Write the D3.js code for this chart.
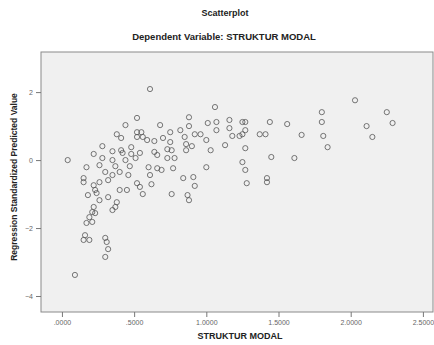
<!DOCTYPE html>
<html>
<head>
<meta charset="utf-8">
<script src="https://cdn.jsdelivr.net/npm/d3@7"></script>
<style>
  body { margin: 0; background: #fff; }
  text { font-family: "Liberation Sans", Arial, sans-serif; }
</style>
</head>
<body>
<div id="chart"></div>
<script>
// STRUKTUR MODAL (x) vs Regression Standardized Predicted Value (y)
const strukturModal = [
  0.61, 1.06, 0.52, 0.88, 0.88, 0.44, 1.01, 1.07, 1.07, 1.16, 1.16, 1.25, 1.18, 1.23,
  0.38, 0.41, 0.52, 0.55, 0.52, 0.56, 0.59, 0.64, 0.75, 0.82, 0.92, 0.96, 0.85, 0.75,
  0.86, 0.90, 0.86, 0.28, 0.22, 0.35, 0.41, 0.42, 0.48, 0.48, 0.28, 0.54, 0.64, 0.66,
  0.73, 0.76, 0.04, 0.17, 0.35, 0.37, 0.47, 0.60, 0.66, 0.73, 0.78, 0.77, 0.91, 1.00,
  1.25, 0.30, 0.35, 0.40, 0.46, 0.15, 0.15, 0.22, 0.26, 0.32, 0.23, 0.24, 0.18, 0.45,
  0.52, 0.54, 0.56, 0.62, 0.84, 0.92, 0.76, 0.87, 0.88, 0.32, 0.22, 0.23, 0.21, 0.19,
  0.38, 0.37, 0.35, 0.17, 0.21, 0.16, 0.15, 0.19, 0.30, 0.31, 0.32, 0.30, 0.09, 2.03,
  2.25, 2.29, 1.80, 1.80, 2.11, 2.15, 1.81, 1.84, 1.27, 1.27, 1.44, 1.56, 1.25, 1.37,
  1.41, 1.66, 1.27, 1.45, 1.61, 1.27, 1.42, 1.28, 1.42, 0.68, 0.70, 1.00, 1.13, 1.03,
  0.26, 0.44, 0.51, 0.61, 0.69, 0.40, 0.26
];
const predictedValue = [
  2.09, 1.56, 1.24, 1.26, 1.00, 1.03, 1.09, 1.12, 0.88, 1.18, 0.94, 1.12, 0.71, 0.71,
  0.76, 0.65, 0.82, 0.82, 0.68, 0.68, 0.59, 0.56, 0.82, 0.88, 0.76, 0.76, 0.68, 0.53,
  0.47, 0.41, 0.29, 0.41, 0.18, 0.26, 0.29, 0.21, 0.38, 0.18, 0.06, 0.21, 0.24, 0.15,
  0.32, 0.29, 0.00, -0.21, 0.00, -0.18, -0.18, -0.21, -0.24, 0.06, 0.06, -0.24, -0.50, -0.21,
  -0.06, -0.35, -0.44, -0.35, -0.44, -0.53, -0.65, -0.74, -0.65, -0.59, -0.88, -0.97, -1.03, -0.88,
  -0.68, -0.79, -1.00, -0.71, -0.53, -0.76, -1.00, -1.03, -1.18, -1.09, -1.38, -1.56, -1.53, -1.68,
  -1.24, -1.38, -1.47, -1.85, -1.82, -2.21, -2.35, -2.35, -2.29, -2.41, -2.62, -2.85, -3.38, 1.76,
  1.41, 1.09, 1.41, 1.12, 1.00, 0.68, 0.71, 0.38, 1.12, 0.88, 1.12, 1.06, 0.76, 0.76,
  0.76, 0.74, 0.35, 0.09, 0.06, -0.29, -0.53, -0.68, -0.65, 1.03, 0.65, 0.59, 0.44, 0.29,
  -0.15, 0.00, 0.06, -0.44, -0.29, -0.88, -1.18
];
const xTicks = [0, 0.5, 1.0, 1.5, 2.0, 2.5];
const yTicks = [2, 0, -2, -4];

const W = 434, H = 345;
const margin = { top: 52, right: 1, bottom: 33, left: 41 };
const innerW = W - margin.left - margin.right;
const innerH = H - margin.top - margin.bottom;

const svg = d3.select('#chart').append('svg')
  .attr('width', W)
  .attr('height', H);

svg.append('text')
  .attr('x', 225).attr('y', 16)
  .attr('text-anchor', 'middle')
  .style('font-size', '9px').style('font-weight', 'bold').attr('fill', '#222')
  .text('Scatterplot');

svg.append('text')
  .attr('x', 224).attr('y', 40)
  .attr('text-anchor', 'middle')
  .style('font-size', '9.5px').style('font-weight', 'bold').attr('fill', '#222')
  .text('Dependent Variable: STRUKTUR MODAL');

const g = svg.append('g')
  .attr('transform', `translate(${margin.left},${margin.top})`);

const x = d3.scaleLinear().domain([-0.145, 2.57]).range([0, innerW]);
const y = d3.scaleLinear().domain([3.18, -4.47]).range([0, innerH]);

g.append('rect')
  .attr('width', innerW).attr('height', innerH)
  .attr('fill', '#f0f0f0')
  .attr('stroke', '#8a8a8a').attr('stroke-width', 1);

const xAxis = g.append('g')
  .attr('transform', `translate(0,${innerH})`)
  .call(d3.axisBottom(x).tickValues(xTicks).tickSize(5).tickPadding(3)
    .tickFormat(d => d3.format('.4f')(d).replace(/^0/, '')));
const yAxis = g.append('g')
  .call(d3.axisLeft(y).tickValues(yTicks).tickSize(5).tickPadding(3));

[xAxis, yAxis].forEach(a => {
  a.select('.domain').remove();
  a.selectAll('.tick line').attr('stroke', '#777');
  a.selectAll('.tick text').attr('fill', '#666').style('font-size', '7px');
});

const points = strukturModal.map((v, i) => ({ x: v, y: predictedValue[i] }));

g.selectAll('circle.pt')
  .data(points)
  .enter().append('circle')
  .attr('class', 'pt')
  .attr('cx', d => x(d.x))
  .attr('cy', d => y(d.y))
  .attr('r', 2.6)
  .attr('fill', 'none')
  .attr('stroke', '#555')
  .attr('stroke-width', 0.8);

svg.append('text')
  .attr('x', 240).attr('y', 339)
  .attr('text-anchor', 'middle')
  .style('font-size', '9px').style('font-weight', 'bold').attr('fill', '#222')
  .text('STRUKTUR MODAL');

svg.append('text')
  .attr('transform', 'translate(17,177) rotate(-90)')
  .attr('text-anchor', 'middle')
  .style('font-size', '8.5px').style('font-weight', 'bold').attr('fill', '#222')
  .text('Regression Standardized Predicted Value');
</script>
</body>
</html>
